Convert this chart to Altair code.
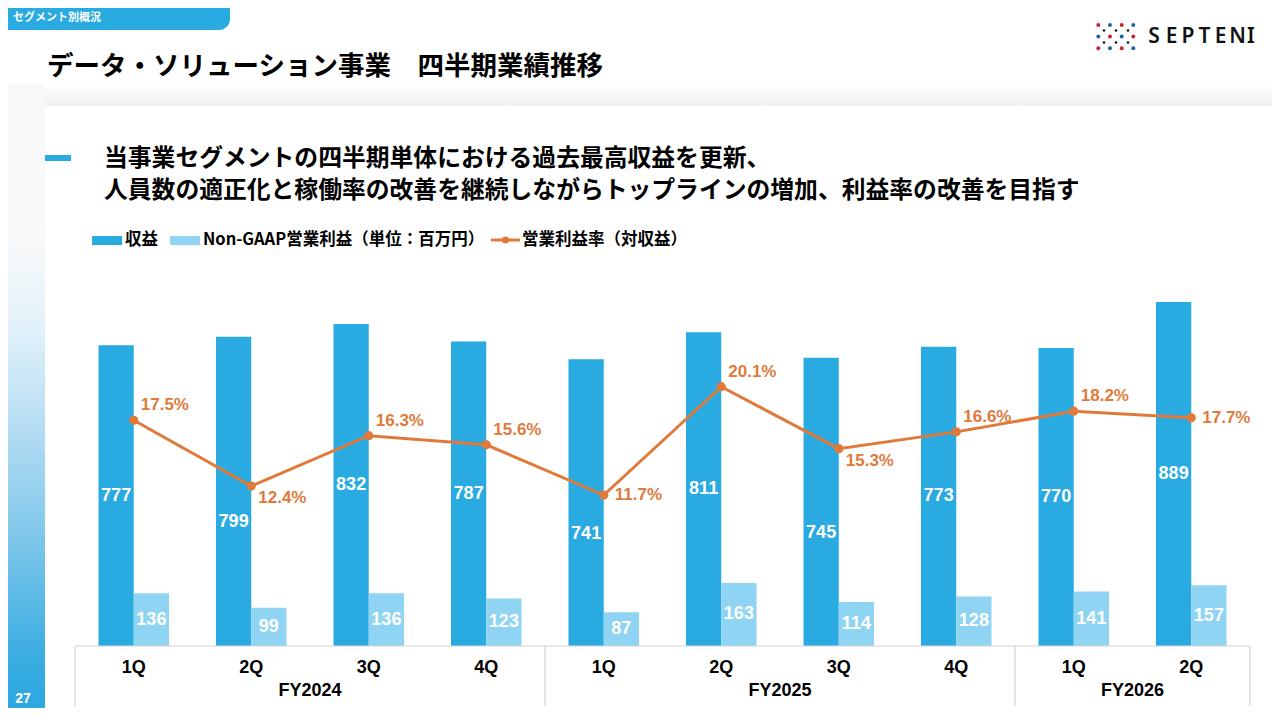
import altair as alt
import pandas as pd

# ---------------- data ----------------
fiscal_years = ["FY2024", "FY2024", "FY2024", "FY2024",
                "FY2025", "FY2025", "FY2025", "FY2025",
                "FY2026", "FY2026"]
quarters = ["1Q", "2Q", "3Q", "4Q", "1Q", "2Q", "3Q", "4Q", "1Q", "2Q"]
revenue = [777, 799, 832, 787, 741, 811, 745, 773, 770, 889]
op_profit = [136, 99, 136, 123, 87, 163, 114, 128, 141, 157]
op_margin = [17.5, 12.4, 16.3, 15.6, 11.7, 20.1, 15.3, 16.6, 18.2, 17.7]

series_names = ["収益", "Non-GAAP営業利益"]

# ---------------- styling ----------------
JP = "Noto Sans CJK JP"
NUM = "Liberation Sans Narrow, Liberation Sans, Arial"
NUMW = "Liberation Sans, Arial"
DARK = "#29abe2"
LIGHT = "#8fd4f2"
ORANGE = "#e07a3b"
GRID = "#d3d3d3"
OFF = 8  # page margin

W, H = 1264, 700
X_RANGE = [75 - OFF, 1250 - OFF]
Y_RANGE = [646 - OFF, 259 - OFF]

cats = [f"{f} {q}" for f, q in zip(fiscal_years, quarters)]

wide = pd.DataFrame({"cat": cats, "fy": fiscal_years, "q": quarters,
                     "rev": revenue, "op": op_profit, "margin": op_margin})
long = pd.concat([
    pd.DataFrame({"cat": cats, "series": series_names[0], "value": revenue}),
    pd.DataFrame({"cat": cats, "series": series_names[1], "value": op_profit}),
], ignore_index=True)

# fiscal year groups for the two-level axis
idx = pd.DataFrame({"fy": fiscal_years, "i": range(len(fiscal_years))})
groups = idx.groupby("fy", sort=False)["i"].agg(["min", "max"]).reset_index()
groups["start"] = groups["min"]
groups["end"] = groups["max"] + 1
groups["mid"] = (groups["start"] + groups["end"]) / 2
seps = pd.DataFrame({"pos": list(groups["start"]) + [groups["end"].max()]})
n = len(cats)
span = pd.DataFrame({"a": [0], "b": [n]})

xband = alt.Scale(domain=cats, range=X_RANGE, paddingInner=0.4, paddingOuter=0.2)
xquant = alt.Scale(domain=[0, n], range=X_RANGE, nice=False, zero=False)
ybar = alt.Scale(domain=[0, 1000], range=Y_RANGE, nice=False)
yrate = alt.Scale(domain=[0, 30], range=Y_RANGE, nice=False)
xoff = alt.XOffset("series:N", sort=series_names,
                   scale=alt.Scale(paddingInner=0, paddingOuter=0))

one = pd.DataFrame({"k": [0]})


def px(v):
    return v - OFF


def dtext(text, x, y, size, color="#000000", weight="bold", font=JP,
          align="left", baseline="middle"):
    return alt.Chart(one).mark_text(
        text=text, font=font, fontSize=size, fontWeight=weight, color=color,
        align=align, baseline=baseline
    ).encode(x=alt.value(px(x)), y=alt.value(px(y)))


def drect(x1, x2, y1, y2, color, **kw):
    return alt.Chart(one).mark_rect(color=color, **kw).encode(
        x=alt.value(px(x1)), x2=alt.value(px(x2)),
        y=alt.value(px(y1)), y2=alt.value(px(y2)))


layers = []

# ---------------- page decoration ----------------
layers.append(drect(8, 1280, 84, 106, {
    "gradient": "linear", "x1": 0, "x2": 0, "y1": 0, "y2": 1,
    "stops": [{"offset": 0, "color": "#ffffff"},
              {"offset": 1, "color": "#f1f1f1"}]}))
layers.append(drect(8, 45, 84, 720, {
    "gradient": "linear", "x1": 0, "x2": 0, "y1": 0, "y2": 1,
    "stops": [{"offset": 0, "color": "#f8f8f8"},
              {"offset": 0.25, "color": "#f7f9fa"},
              {"offset": 0.38, "color": "#e2f2fa"},
              {"offset": 0.55, "color": "#b2dcf2"},
              {"offset": 0.72, "color": "#7cc6ea"},
              {"offset": 0.9, "color": "#3aade2"},
              {"offset": 1, "color": "#2aa7df"}]}))
layers.append(drect(45, 1280, 106, 720, "#ffffff"))

# top-left tab
layers.append(drect(8, 230, 8, 30, DARK, cornerRadiusBottomRight=12))
layers.append(dtext("セグメント別概況", 13, 18, 11, color="#ffffff"))

# title
layers.append(dtext("データ・ソリューション事業　四半期業績推移", 47, 67, 26.5))

# logo
logo_rows = [
    (25, ["#d0202f", "#1f5fae", "#d0202f", "#1f5fae"], 4.4),
    (30.5, ["#111111", "#111111", "#111111"], 2.8),
    (36.5, ["#1f5fae", "#d0202f", "#1f5fae", "#d0202f"], 4.4),
    (42.5, ["#111111", "#111111", "#111111"], 2.8),
    (48.3, ["#d0202f", "#1f5fae", "#d0202f", "#1f5fae"], 4.4),
]
for yy, cols, d in logo_rows:
    xs = [1098.3, 1110, 1121.7, 1133.3] if len(cols) == 4 else [1104, 1116, 1128]
    for xx, cc in zip(xs, cols):
        layers.append(alt.Chart(one).mark_point(
            filled=True, color=cc, size=d * d * 0.8, opacity=1, shape="circle"
        ).encode(x=alt.value(px(xx)), y=alt.value(px(yy))))
for ch, xx in zip("SEPTENI", [1154, 1171.5, 1188, 1204.5, 1220.5, 1237.5, 1251]):
    layers.append(dtext(ch, xx, 37, 21, color="#111111", weight=600,
                        font="Noto Sans", align="center"))

# heading
layers.append(drect(45, 71, 155, 161, DARK))
layers.append(dtext("当事業セグメントの四半期単体における過去最高収益を更新、", 104, 159, 23.8))
layers.append(dtext("人員数の適正化と稼働率の改善を継続しながらトップラインの増加、利益率の改善を目指す",
                    104, 191, 23.8))

# legend
layers.append(drect(92, 122, 236, 245, DARK))
layers.append(dtext("収益", 125, 240, 16.5))
layers.append(drect(170, 200, 236, 245, LIGHT))
layers.append(dtext("Non-GAAP営業利益（単位：百万円）", 203, 240, 16.5))
layers.append(alt.Chart(one).mark_rule(color=ORANGE, strokeWidth=3).encode(
    x=alt.value(px(491)), x2=alt.value(px(520)), y=alt.value(px(240))))
layers.append(alt.Chart(one).mark_point(filled=True, color=ORANGE, size=50, opacity=1).encode(
    x=alt.value(px(505.5)), y=alt.value(px(240))))
layers.append(dtext("営業利益率（対収益）", 522, 240, 16.5))

# page number
layers.append(dtext("27", 23, 699, 14, color="#ffffff", font=NUMW, align="center"))

# ---------------- chart ----------------
bars = alt.Chart(long).mark_bar().encode(
    x=alt.X("cat:N", sort=cats, scale=xband, axis=None),
    xOffset=xoff,
    y=alt.Y("value:Q", scale=ybar, axis=None),
    color=alt.Color("series:N", scale=alt.Scale(domain=series_names, range=[DARK, LIGHT]),
                    legend=None),
)
layers.append(bars)

lowered = ["FY2024 2Q", "FY2025 1Q", "FY2025 3Q"]
bar_lbl_base = alt.Chart(long).transform_calculate(mid="datum.value / 2")
lbl_enc = dict(
    x=alt.X("cat:N", sort=cats, scale=xband, axis=None),
    xOffset=xoff,
    y=alt.Y("mid:Q", scale=ybar, axis=None),
    text=alt.Text("value:Q"),
)
layers.append(bar_lbl_base.transform_filter(
    f"indexof({lowered}, datum.cat) < 0 || datum.series != '{series_names[0]}'"
).mark_text(font=NUM, fontSize=18, fontWeight="bold", color="#ffffff").encode(**lbl_enc))
layers.append(bar_lbl_base.transform_filter(
    f"indexof({lowered}, datum.cat) >= 0 && datum.series == '{series_names[0]}'"
).mark_text(font=NUM, fontSize=18, fontWeight="bold", color="#ffffff", dy=31).encode(**lbl_enc))

# category axis: baseline, quarter labels, fiscal-year level
layers.append(alt.Chart(span).mark_rule(color=GRID, strokeWidth=1.2).encode(
    x=alt.X("a:Q", scale=xquant, axis=None), x2="b:Q",
    y=alt.value(px(646))))
layers.append(alt.Chart(wide).mark_text(
    font=NUM, fontSize=18, fontWeight="bold", color="#000000", baseline="middle"
).encode(x=alt.X("cat:N", sort=cats, scale=xband, axis=None),
         y=alt.value(px(668)), text="q:N"))
layers.append(alt.Chart(seps).mark_rule(color=GRID, strokeWidth=1.2).encode(
    x=alt.X("pos:Q", scale=xquant, axis=None),
    y=alt.value(px(646)), y2=alt.value(px(706))))
layers.append(alt.Chart(groups).mark_text(
    font=NUM, fontSize=18, fontWeight="bold", color="#000000", baseline="middle"
).encode(x=alt.X("mid:Q", scale=xquant, axis=None), y=alt.value(px(691)),
         text="fy:N"))

# margin line
rate_x = alt.X("cat:N", sort=cats, scale=xband, axis=None)
rate_y = alt.Y("margin:Q", scale=yrate, axis=None)
layers.append(alt.Chart(wide).mark_line(color=ORANGE, strokeWidth=3).encode(x=rate_x, y=rate_y))
layers.append(alt.Chart(wide).mark_point(filled=True, color=ORANGE, size=85, opacity=1).encode(
    x=rate_x, y=rate_y))

below = ["FY2024 2Q", "FY2025 3Q"]
beside = ["FY2025 1Q", "FY2026 2Q"]
rate_lbl = alt.Chart(wide).transform_calculate(lbl="format(datum.margin, '.1f') + '%'")
rate_style = dict(font=NUMW, fontSize=17, fontWeight="bold", color=ORANGE, align="left")
layers.append(rate_lbl.transform_filter(
    f"indexof({below + beside}, datum.cat) < 0"
).mark_text(dx=7, dy=-15, **rate_style).encode(x=rate_x, y=rate_y, text="lbl:N"))
layers.append(rate_lbl.transform_filter(
    f"indexof({below}, datum.cat) >= 0"
).mark_text(dx=7, dy=12, **rate_style).encode(x=rate_x, y=rate_y, text="lbl:N"))
layers.append(rate_lbl.transform_filter(
    f"indexof({beside}, datum.cat) >= 0"
).mark_text(dx=11, dy=0, **rate_style).encode(x=rate_x, y=rate_y, text="lbl:N"))

chart = alt.layer(*layers).resolve_scale(
    x="independent", y="independent", color="independent"
).properties(
    width=W, height=H, autosize=alt.AutoSizeParams(type="none"), padding=0,
    background="#ffffff"
).configure_view(stroke=None)

chart.save("out.html", embed_options={"renderer": "svg", "actions": False})
